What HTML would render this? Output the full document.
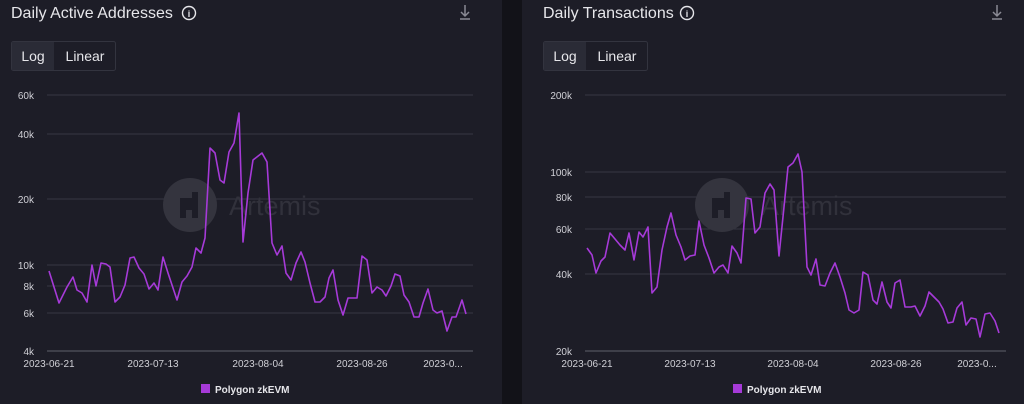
<!DOCTYPE html>
<html><head><meta charset="utf-8"><style>
html,body{margin:0;padding:0;width:1024px;height:404px;overflow:hidden;background:#121218;font-family:"Liberation Sans",sans-serif}
</style></head><body>
<svg width="1024" height="404" viewBox="0 0 1024 404" xmlns="http://www.w3.org/2000/svg" font-family="Liberation Sans, sans-serif">
<rect x="0" y="0" width="502" height="404" fill="#1d1d27"/>
<rect x="522" y="0" width="502" height="404" fill="#1d1d27"/>

<!-- LEFT -->
<text x="11" y="18" font-size="16" fill="#e6e6ea">Daily Active Addresses</text>
<circle cx="189" cy="13" r="6.5" fill="none" stroke="#e6e6ea" stroke-width="1.4"/>
<text x="189" y="17" font-size="9" font-weight="bold" fill="#e6e6ea" text-anchor="middle">i</text>
<g stroke="#8a8a94" stroke-width="1.5" fill="none"><path d="M465 5v11M461 12l4 4 4-4M460 19h10"/></g>
<rect x="11.5" y="41.5" width="104" height="29" rx="2" fill="none" stroke="#33343f"/>
<rect x="12" y="42" width="42" height="28" fill="#2a2b36"/>
<text x="33" y="61" font-size="14" fill="#e6e6ea" text-anchor="middle">Log</text>
<text x="85" y="61" font-size="14" fill="#e6e6ea" text-anchor="middle">Linear</text>
<g stroke="#363743" stroke-width="1">
<line x1="47" x2="473" y1="95" y2="95"/><line x1="47" x2="473" y1="134" y2="134"/>
<line x1="47" x2="473" y1="199" y2="199"/><line x1="47" x2="473" y1="265" y2="265"/>
<line x1="47" x2="473" y1="286" y2="286"/><line x1="47" x2="473" y1="313" y2="313"/>
</g>
<line x1="47" x2="473" y1="351" y2="351" stroke="#4a4b55" stroke-width="1.5"/>
<g font-size="10" fill="#d0d0d6" text-anchor="end">
<text x="34" y="99">60k</text><text x="34" y="138">40k</text><text x="34" y="203">20k</text>
<text x="34" y="269">10k</text><text x="34" y="290">8k</text><text x="34" y="317">6k</text><text x="34" y="355">4k</text>
</g>
<g font-size="10" fill="#d0d0d6" text-anchor="middle">
<text x="49" y="367">2023-06-21</text><text x="153" y="367">2023-07-13</text><text x="258" y="367">2023-08-04</text>
<text x="362" y="367">2023-08-26</text><text x="443" y="367">2023-0...</text>
</g>
<circle cx="190" cy="205" r="27" fill="#34343e"/>
<text x="229" y="215" font-size="27" fill="#31313b">Artemis</text>
<path d="M180 198h12v-6h6v26h-6v-8h-6v8h-6z" fill="#1d1d27"/>
<polyline fill="none" stroke="#a63ad8" stroke-width="1.6" stroke-linejoin="round" points="49,271 59,303 67,287 73,277 77,290 82,293 87,302 92,265 96,286 101,263 106,264 110,267 115,302 120,297 125,285 130,258 134,257 139,268 144,274 149,289 154,283 158,290 163,257 168,273 173,288 177,300 182,282 187,276 192,267 196,248 201,253 205,238 210,148 215,153 220,180 224,183 229,152 234,143 239,113 243,242 248,193 253,160 262,153 267,162 272,243 277,255 282,246 286,273 291,280 296,263 301,252 305,262 310,283 315,302 320,302 325,297 329,278 333,270 338,300 343,315 348,298 353,298 357,298 362,256 367,260 372,293 377,287 382,290 386,296 391,286 395,274 400,276 404,295 409,302 414,317 419,317 423,303 428,289 433,310 437,313 442,311 447,331 452,317 456,317 462,300 466,314"/>
<rect x="201" y="384" width="9" height="9" fill="#a63ad8"/>
<text x="215" y="393" font-size="10" font-weight="bold" fill="#e6e6ea">Polygon zkEVM</text>

<!-- RIGHT -->
<text x="543" y="18" font-size="16" fill="#e6e6ea">Daily Transactions</text>
<circle cx="687" cy="13" r="6.5" fill="none" stroke="#e6e6ea" stroke-width="1.4"/>
<text x="687" y="17" font-size="9" font-weight="bold" fill="#e6e6ea" text-anchor="middle">i</text>
<g stroke="#8a8a94" stroke-width="1.5" fill="none"><path d="M997 5v11M993 12l4 4 4-4M992 19h10"/></g>
<rect x="543.5" y="41.5" width="104" height="29" rx="2" fill="none" stroke="#33343f"/>
<rect x="544" y="42" width="42" height="28" fill="#2a2b36"/>
<text x="565" y="61" font-size="14" fill="#e6e6ea" text-anchor="middle">Log</text>
<text x="617" y="61" font-size="14" fill="#e6e6ea" text-anchor="middle">Linear</text>
<g stroke="#363743" stroke-width="1">
<line x1="585" x2="1006" y1="95" y2="95"/><line x1="585" x2="1006" y1="172" y2="172"/>
<line x1="585" x2="1006" y1="197" y2="197"/><line x1="585" x2="1006" y1="229" y2="229"/>
<line x1="585" x2="1006" y1="274" y2="274"/>
</g>
<line x1="585" x2="1006" y1="351" y2="351" stroke="#4a4b55" stroke-width="1.5"/>
<g font-size="10" fill="#d0d0d6" text-anchor="end">
<text x="572" y="99">200k</text><text x="572" y="176">100k</text><text x="572" y="201">80k</text>
<text x="572" y="233">60k</text><text x="572" y="278">40k</text><text x="572" y="355">20k</text>
</g>
<g font-size="10" fill="#d0d0d6" text-anchor="middle">
<text x="587" y="367">2023-06-21</text><text x="690" y="367">2023-07-13</text><text x="793" y="367">2023-08-04</text>
<text x="896" y="367">2023-08-26</text><text x="977" y="367">2023-0...</text>
</g>
<circle cx="722" cy="205" r="27" fill="#34343e"/>
<text x="761" y="215" font-size="27" fill="#31313b">Artemis</text>
<path d="M712 198h12v-6h6v26h-6v-8h-6v8h-6z" fill="#1d1d27"/>
<polyline fill="none" stroke="#a63ad8" stroke-width="1.6" stroke-linejoin="round" points="587,248 592,255 596,273 601,261 605,257 610,233 615,239 620,245 625,250 629,233 634,260 639,232 643,237 648,227 652,293 657,287 662,250 667,227 671,213 676,235 681,247 685,260 690,256 695,255 699,221 704,245 709,258 714,273 719,267 723,265 728,273 732,246 737,253 741,263 746,198 751,199 755,233 760,227 765,193 770,184 774,190 779,256 784,207 788,167 793,163 798,154 802,172 807,267 811,275 816,259 820,285 825,286 830,273 835,263 840,277 845,293 849,310 854,313 859,310 863,272 868,275 873,300 877,304 882,282 887,302 891,308 895,283 900,280 905,307 911,307 915,306 920,316 925,306 929,292 934,297 939,302 943,309 948,323 953,322 957,308 962,302 966,325 971,318 976,319 980,337 985,314 990,313 995,321 999,333"/>
<rect x="733" y="384" width="9" height="9" fill="#a63ad8"/>
<text x="747" y="393" font-size="10" font-weight="bold" fill="#e6e6ea">Polygon zkEVM</text>
</svg>
</body></html>
